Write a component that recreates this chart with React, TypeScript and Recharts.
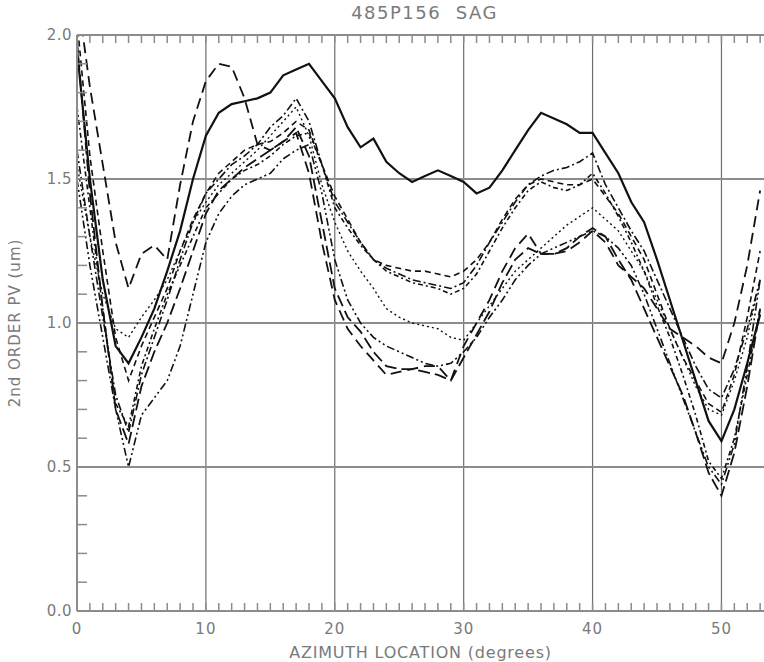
import { LineChart, Line, XAxis, YAxis, ReferenceLine } from 'recharts';

// azimuth positions (degrees)
const azimuth = [
    0, 1, 2, 3, 4, 5, 6, 7, 8, 9, 10, 11, 12, 13, 14, 15, 16, 17, 18, 19, 20, 21, 22, 23, 24, 25, 26,
    27, 28, 29, 30, 31, 32, 33, 34, 35, 36, 37, 38, 39, 40, 41, 42, 43, 44, 45, 46, 47, 48, 49, 50, 51, 52, 53,
];

// 2nd order PV (um), one list per trace
const traceSolid = [
    1.95, 1.5, 1.15, 0.92, 0.86, 0.95, 1.05, 1.18, 1.32, 1.5, 1.65, 1.73, 1.76, 1.77, 1.78, 1.8, 1.86, 1.88, 1.9, 1.84,
    1.78, 1.68, 1.61, 1.64, 1.56, 1.52, 1.49, 1.51, 1.53, 1.51, 1.49, 1.45, 1.47, 1.53, 1.6, 1.67, 1.73, 1.71, 1.69, 1.66,
    1.66, 1.59, 1.52, 1.42, 1.35, 1.22, 1.08, 0.94, 0.8, 0.66, 0.59, 0.7, 0.86, 1.03,
];
const traceHump = [
    2.15, 1.82, 1.55, 1.28, 1.12, 1.24, 1.27, 1.22, 1.48, 1.7, 1.84, 1.9, 1.89, 1.78, 1.62, 1.6, 1.63, 1.66, 1.52, 1.28,
    1.08, 0.98, 0.92, 0.87, 0.82, 0.83, 0.84, 0.85, 0.85, 0.8, 0.92, 1.0, 1.08, 1.18, 1.26, 1.31, 1.24, 1.24, 1.25, 1.28,
    1.32, 1.28, 1.2, 1.16, 1.12, 1.05, 0.98, 0.95, 0.92, 0.88, 0.86, 1.0, 1.2, 1.46,
];
const traceDashDot = [
    1.6, 1.3, 1.02, 0.75, 0.62, 0.82, 0.95, 1.08, 1.22, 1.35, 1.45, 1.5, 1.55, 1.58, 1.62, 1.68, 1.72, 1.78, 1.7, 1.55,
    1.42, 1.35, 1.28, 1.22, 1.19, 1.17, 1.15, 1.14, 1.13, 1.12, 1.14, 1.2, 1.28, 1.35, 1.42, 1.48, 1.51, 1.53, 1.54, 1.56,
    1.59, 1.48, 1.4, 1.32, 1.25, 1.15, 1.05, 0.95, 0.85, 0.77, 0.74, 0.84, 0.98, 1.15,
];
const traceDash = [
    2.05, 1.58, 1.25, 0.95, 0.8, 0.92, 1.02, 1.12, 1.25, 1.36, 1.45, 1.52, 1.56, 1.6, 1.62, 1.63, 1.66, 1.7, 1.67, 1.55,
    1.44, 1.36, 1.28, 1.22, 1.2, 1.19, 1.18, 1.18, 1.17, 1.16, 1.18, 1.22, 1.28, 1.36, 1.43, 1.48, 1.5, 1.49, 1.48, 1.48,
    1.5, 1.44, 1.38, 1.3, 1.22, 1.1, 0.98, 0.88, 0.8, 0.72, 0.69, 0.82, 1.02, 1.25,
];
const traceDotted = [
    1.55, 1.3, 1.1, 0.98, 0.95, 1.02, 1.08, 1.15, 1.25, 1.35, 1.42, 1.48, 1.52, 1.56, 1.6, 1.65, 1.7, 1.75, 1.65, 1.48,
    1.35, 1.25, 1.18, 1.12, 1.05, 1.02, 1.0, 0.99, 0.98, 0.95, 0.94, 1.0, 1.06, 1.12, 1.18, 1.22, 1.26, 1.3, 1.34, 1.37,
    1.4, 1.36, 1.32, 1.25, 1.18, 1.08, 0.98, 0.88, 0.78, 0.7, 0.68, 0.8, 0.95, 1.15,
];
const traceDashDotDot = [
    1.5, 1.2, 0.95, 0.7, 0.5, 0.68, 0.74, 0.8, 0.92, 1.1, 1.28, 1.38, 1.44, 1.48, 1.5, 1.52, 1.57, 1.6, 1.62, 1.45,
    1.22, 1.08, 1.0, 0.95, 0.92, 0.9, 0.88, 0.86, 0.85, 0.86, 0.9, 0.95, 1.02, 1.08, 1.15, 1.2, 1.24, 1.26, 1.28, 1.3,
    1.32, 1.3, 1.26, 1.2, 1.1, 0.98, 0.86, 0.74, 0.62, 0.5, 0.44, 0.58, 0.85, 1.15,
];
const traceLongDash = [
    1.98, 1.45, 1.05, 0.7, 0.58, 0.78, 0.9, 1.0, 1.12, 1.25, 1.38, 1.46, 1.5, 1.54, 1.57, 1.6, 1.63, 1.68, 1.58, 1.35,
    1.12, 1.02, 0.97, 0.9, 0.85, 0.84, 0.84, 0.83, 0.82, 0.8, 0.88, 0.96, 1.04, 1.14, 1.22, 1.26, 1.24, 1.24, 1.26, 1.3,
    1.33, 1.3, 1.22, 1.15, 1.05, 0.95, 0.85, 0.75, 0.62, 0.48, 0.4, 0.55, 0.78, 1.05,
];
const traceDashDot2 = [
    1.75, 1.4, 1.05, 0.72, 0.64, 0.85, 0.98, 1.1, 1.2, 1.3, 1.4, 1.45, 1.5, 1.53, 1.55, 1.58, 1.62, 1.65, 1.66, 1.55,
    1.4, 1.33, 1.27, 1.22, 1.18, 1.16, 1.14, 1.13, 1.12, 1.1, 1.12, 1.17, 1.25, 1.33, 1.4, 1.46, 1.49, 1.47, 1.46, 1.48,
    1.52, 1.45, 1.37, 1.28, 1.18, 1.06, 0.95, 0.82, 0.68, 0.52, 0.46, 0.6, 0.82, 1.05,
];

const xTicks = [
    0, 1, 2, 3, 4, 5, 6, 7, 8, 9, 10, 11, 12, 13, 14, 15, 16, 17, 18, 19, 20, 21, 22, 23, 24, 25, 26,
    27, 28, 29, 30, 31, 32, 33, 34, 35, 36, 37, 38, 39, 40, 41, 42, 43, 44, 45, 46, 47, 48, 49, 50, 51, 52, 53,
];
const yTicks = [0, 0.1, 0.2, 0.3, 0.4, 0.5, 0.6, 0.7, 0.8, 0.9, 1.0, 1.1, 1.2, 1.3, 1.4, 1.5, 1.6, 1.7, 1.8, 1.9, 2.0];
const gridX = [10, 20, 30, 40, 50];
const gridY = [0.5, 1.0, 1.5];

const traces = [
    { key: 'solid', values: traceSolid, dash: undefined, width: 2.2 },
    { key: 'hump', values: traceHump, dash: '11 6', width: 1.8 },
    { key: 'dashdot', values: traceDashDot, dash: '8 3 2 3', width: 1.6 },
    { key: 'dash', values: traceDash, dash: '6 4', width: 1.6 },
    { key: 'dotted', values: traceDotted, dash: '2 3', width: 1.4 },
    { key: 'dashdotdot', values: traceDashDotDot, dash: '8 3 2 3 2 3', width: 1.6 },
    { key: 'longdash', values: traceLongDash, dash: '12 5', width: 1.8 },
    { key: 'dashdot2', values: traceDashDot2, dash: '5 3 2 3', width: 1.6 },
];

const data = azimuth.map((az, i) => {
    const row: Record<string, number> = { az };
    traces.forEach((t) => {
        row[t.key] = t.values[i];
    });
    return row;
});

const FONT = 'DejaVu Sans';
const TEXT = '#7a7a7a';
const AXIS = '#8c8c8c';

const BottomTick = (props: any) => {
    const { x, y, payload } = props;
    const major = payload.value % 10 === 0;
    return (
        <g>
            <line x1={x} y1={y} x2={x} y2={y - 8} stroke={AXIS} strokeWidth={1.5} />
            {major && (
                <text x={x} y={y + 23} textAnchor="middle" fill={TEXT} fontSize={15} letterSpacing={1} fontFamily={FONT}>
                    {payload.value}
                </text>
            )}
        </g>
    );
};

const TopTick = (props: any) => {
    const { x, y } = props;
    return <line x1={x} y1={y} x2={x} y2={y + 8} stroke={AXIS} strokeWidth={1.5} />;
};

const LeftTick = (props: any) => {
    const { x, y, payload } = props;
    const v = payload.value;
    const major = Math.round(v * 10) % 5 === 0;
    return (
        <g>
            <line x1={x} y1={y} x2={x + 10} y2={y} stroke={AXIS} strokeWidth={1.5} />
            {major && (
                <text x={x - 5} y={y + 5} textAnchor="end" fill={TEXT} fontSize={15} letterSpacing={0.5} fontFamily={FONT}>
                    {v.toFixed(1)}
                </text>
            )}
        </g>
    );
};

export default function App() {
    return (
        <div style={{ position: 'absolute', left: 0, top: 0, width: 764, height: 662, background: '#fff' }}>
            <LineChart width={764} height={662} data={data} margin={{ top: 34, right: 0, bottom: 0, left: 0 }}>
                {gridX.map((v) => (
                    <ReferenceLine key={`gx-${v}`} x={v} stroke="#6e6e6e" strokeWidth={1.2} />
                ))}
                {gridY.map((v) => (
                    <ReferenceLine key={`gy-${v}`} y={v} stroke="#8c8c8c" strokeWidth={1.8} />
                ))}
                <XAxis
                    dataKey="az"
                    type="number"
                    domain={[0, 53.3]}
                    ticks={xTicks}
                    interval={0}
                    allowDataOverflow
                    height={51}
                    tickSize={0}
                    tickMargin={0}
                    tickLine={false}
                    axisLine={{ stroke: AXIS, strokeWidth: 2 }}
                    tick={<BottomTick />}
                    label={{
                        content: (p: any) => (
                            <text
                                x={p.viewBox.x + p.viewBox.width / 2}
                                y={p.viewBox.y + 47}
                                textAnchor="middle"
                                fill={TEXT}
                                fontSize={16}
                                letterSpacing={0.8}
                                fontFamily={FONT}
                            >
                                AZIMUTH LOCATION (degrees)
                            </text>
                        ),
                    }}
                />
                <XAxis
                    xAxisId="top"
                    orientation="top"
                    dataKey="az"
                    type="number"
                    domain={[0, 53.3]}
                    ticks={xTicks}
                    interval={0}
                    allowDataOverflow
                    height={1}
                    tickSize={0}
                    tickMargin={0}
                    tickLine={false}
                    axisLine={{ stroke: AXIS, strokeWidth: 2 }}
                    tick={<TopTick />}
                    label={{
                        content: (p: any) => (
                            <text
                                x={p.viewBox.x + p.viewBox.width / 2 + 4}
                                y={p.viewBox.y - 15}
                                textAnchor="middle"
                                fill={TEXT}
                                fontSize={18}
                                letterSpacing={1.5}
                                fontFamily={FONT}
                                style={{ whiteSpace: 'pre' }}
                            >
                                485P156  SAG
                            </text>
                        ),
                    }}
                />
                <YAxis
                    type="number"
                    domain={[0, 2]}
                    ticks={yTicks}
                    interval={0}
                    allowDataOverflow
                    width={77}
                    tickSize={0}
                    tickMargin={0}
                    tickLine={false}
                    axisLine={{ stroke: AXIS, strokeWidth: 2 }}
                    tick={<LeftTick />}
                    label={{
                        content: (p: any) => {
                            const cx = 20;
                            const cy = p.viewBox.y + p.viewBox.height / 2;
                            return (
                                <text
                                    x={cx}
                                    y={cy}
                                    transform={`rotate(-90 ${cx} ${cy})`}
                                    textAnchor="middle"
                                    fill={TEXT}
                                    fontSize={15}
                                    letterSpacing={1}
                                    fontFamily={FONT}
                                >
                                    2nd ORDER PV (um)
                                </text>
                            );
                        },
                    }}
                />
                {traces.map((t) => (
                    <Line
                        key={t.key}
                        dataKey={t.key}
                        type="linear"
                        stroke="#111"
                        strokeWidth={t.width}
                        strokeDasharray={t.dash}
                        dot={false}
                        activeDot={false}
                        isAnimationActive={false}
                    />
                ))}
            </LineChart>
        </div>
    );
}
